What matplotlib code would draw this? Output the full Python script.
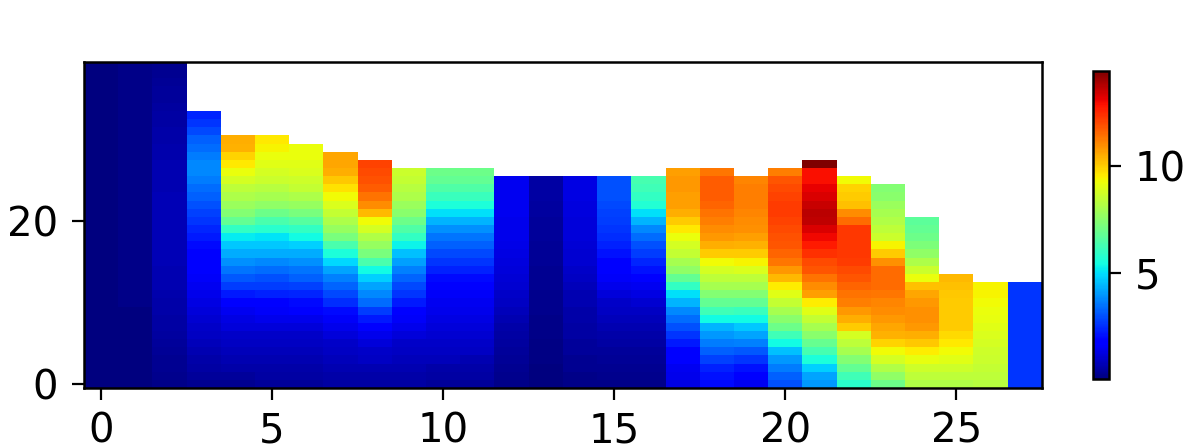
import numpy as np
import matplotlib
matplotlib.use("Agg")
import matplotlib.pyplot as plt

# values per column, from the bottom row upwards
col_00 = [0.05]*8 + [0.1]*32
col_01 = [0.1]*10 + [0.2]*30
col_02 = [0.2, 0.25, 0.3, 0.3, 0.35, 0.4, 0.45, 0.5, 0.55, 0.6, 0.6, 0.65, 0.7, 0.7, 0.7, 0.75, 0.75, 0.75, 0.75, 0.75,
          0.75, 0.75, 0.75, 0.75, 0.7, 0.7, 0.7, 0.7, 0.65, 0.65, 0.6, 0.6, 0.55, 0.5, 0.45, 0.4, 0.4, 0.35, 0.3, 0.25]
col_03 = [0.3, 0.4, 0.5, 0.6, 0.7, 0.8, 0.9, 1.0, 1.1, 1.2, 1.3, 1.4, 1.5, 1.6, 1.7, 1.8, 1.9, 2.0, 2.2, 2.4,
          2.6, 2.8, 3.0, 3.2, 3.4, 3.6, 3.8, 3.8, 3.6, 3.4, 3.2, 2.9, 2.6, 2.4]
col_04 = [0.3, 0.4, 0.6, 0.7, 0.8, 0.9, 1.0, 1.2, 1.3, 1.5, 1.8, 2.2, 2.7, 3.1, 3.5, 3.9, 4.3, 4.7, 5.2, 6.0,
          6.8, 7.4, 7.8, 8.1, 8.4, 8.8, 9.2, 9.6, 9.9, 10.4, 10.5]
col_05 = [0.4, 0.5, 0.6, 0.7, 0.8, 0.9, 1.0, 1.2, 1.4, 1.6, 1.9, 2.3, 2.7, 3.0, 3.4, 3.8, 4.3, 4.7, 5.1, 5.8,
          6.4, 7.0, 7.6, 8.0, 8.3, 8.6, 8.8, 9.0, 9.2, 9.4, 9.6]
col_06 = [0.4, 0.5, 0.6, 0.7, 0.8, 0.9, 1.0, 1.2, 1.4, 1.7, 2.0, 2.4, 2.8, 3.2, 3.5, 3.9, 4.3, 4.8, 5.4, 6.0,
          6.6, 7.2, 7.7, 8.1, 8.5, 8.7, 8.9, 9.0, 9.2, 9.2]
col_07 = [0.5, 0.6, 0.7, 0.8, 0.9, 1.0, 1.2, 1.4, 1.6, 2.0, 2.5, 2.9, 3.3, 3.7, 4.2, 4.9, 5.6, 6.4, 7.2, 7.7,
          8.1, 8.5, 8.9, 9.3, 9.7, 10.1, 10.5, 10.6, 10.6]
col_08 = [0.5, 0.6, 0.7, 0.9, 1.0, 1.2, 1.4, 1.7, 2.2, 2.7, 3.4, 3.8, 4.2, 4.8, 5.4, 6.4, 7.2, 7.7, 8.2, 8.8,
          9.3, 10.3, 11.0, 11.4, 11.7, 11.9, 12.0, 12.1]
col_09 = [0.5, 0.6, 0.7, 0.8, 0.9, 1.0, 1.2, 1.4, 1.6, 1.9, 2.2, 2.6, 2.9, 3.3, 3.7, 4.1, 4.6, 5.3, 6.0, 6.5,
          7.0, 7.5, 7.8, 8.1, 8.3, 8.5, 8.6]
col_10 = [0.4, 0.5, 0.6, 0.8, 0.9, 1.0, 1.1, 1.2, 1.3, 1.4, 1.5, 1.6, 1.8, 2.0, 2.3, 2.6, 2.9, 3.2, 3.5, 3.9,
          4.4, 5.0, 5.6, 6.1, 6.5, 6.8, 7.0]
col_11 = [0.4, 0.5, 0.6, 0.7, 0.9, 1.0, 1.1, 1.2, 1.3, 1.4, 1.5, 1.6, 1.8, 2.0, 2.3, 2.6, 2.9, 3.2, 3.5, 3.9,
          4.4, 5.0, 5.6, 6.1, 6.5, 6.8, 7.0]
col_12 = [0.2, 0.25, 0.3, 0.35, 0.4, 0.45, 0.5, 0.6, 0.7, 0.8, 0.9, 1.0, 1.1, 1.15, 1.2, 1.25, 1.3, 1.35, 1.4, 1.4,
          1.45, 1.5, 1.5, 1.5, 1.5, 1.5]
col_13 = [0.1, 0.1, 0.1, 0.15, 0.15, 0.15, 0.2, 0.2, 0.2, 0.25, 0.25, 0.25, 0.3, 0.3, 0.3, 0.35, 0.35, 0.35, 0.4, 0.4,
          0.4, 0.45, 0.45, 0.5, 0.5, 0.5]
col_14 = [0.2, 0.2, 0.3, 0.3, 0.4, 0.4, 0.5, 0.5, 0.6, 0.6, 0.7, 0.7, 0.8, 0.9, 1.0, 1.1, 1.1, 1.15, 1.2, 1.2,
          1.2, 1.25, 1.25, 1.3, 1.3, 1.3]
col_15 = [0.2, 0.25, 0.3, 0.35, 0.4, 0.5, 0.6, 0.7, 0.8, 0.9, 1.0, 1.2, 1.4, 1.6, 1.8, 1.9, 2.1, 2.3, 2.5, 2.6,
          2.7, 2.8, 2.9, 3.0, 3.0, 3.0]
col_16 = [0.2, 0.25, 0.3, 0.35, 0.4, 0.5, 0.6, 0.7, 0.8, 0.9, 1.1, 1.3, 1.5, 1.8, 2.1, 2.4, 2.7, 3.0, 3.4, 3.8,
          4.4, 5.0, 5.7, 6.0, 6.2, 6.3]
col_17 = [1.3, 1.4, 1.5, 1.7, 1.8, 2.2, 2.6, 3.0, 3.4, 3.8, 4.4, 5.0, 6.0, 6.8, 7.6, 8.0, 8.5, 8.8, 9.2, 9.6,
          10.0, 10.5, 10.7, 10.7, 10.8, 10.8, 10.7]
col_18 = [2.0, 2.1, 2.3, 2.8, 3.2, 3.6, 4.0, 4.4, 5.4, 6.2, 6.8, 7.4, 8.0, 8.4, 8.8, 9.3, 10.0, 10.5, 10.8, 11.0,
          11.2, 11.4, 11.6, 11.7, 11.7, 11.7, 11.3]
col_19 = [1.5, 1.7, 2.1, 2.6, 3.1, 3.7, 4.2, 4.7, 5.4, 6.1, 6.8, 7.4, 8.0, 8.4, 8.9, 9.4, 10.0, 10.4, 10.7, 10.9,
          11.0, 11.1, 11.2, 11.2, 11.2, 11.1]
col_20 = [3.0, 3.2, 3.6, 4.0, 4.6, 5.4, 6.2, 7.0, 7.5, 8.0, 8.5, 9.0, 9.5, 10.3, 10.8, 11.3, 11.6, 11.8, 11.9, 12.0,
          12.1, 12.2, 12.2, 12.1, 12.0, 11.8, 11.2]
col_21 = [4.0, 4.2, 4.8, 5.6, 6.3, 6.9, 7.5, 8.0, 8.5, 9.0, 9.5, 10.7, 11.0, 11.4, 11.8, 12.0, 12.4, 12.7, 13.0, 13.3,
          13.6, 13.7, 13.5, 13.3, 13.1, 12.9, 12.9, 14.4]
col_22 = [5.8, 6.2, 6.8, 7.4, 8.0, 8.4, 8.8, 10.0, 10.5, 10.8, 11.2, 11.4, 11.6, 11.8, 12.0, 12.2, 12.3, 12.3, 12.3, 12.3,
          11.5, 11.0, 10.2, 10.0, 9.9, 9.3]
col_23 = [7.0, 7.6, 8.2, 8.8, 9.3, 9.9, 10.4, 10.6, 10.8, 11.0, 11.1, 11.3, 11.5, 11.5, 11.5, 10.9, 10.0, 9.4, 8.6, 8.4,
          8.2, 8.0, 7.8, 7.5, 7.4]
col_24 = [8.2, 8.4, 8.7, 9.1, 9.5, 10.1, 10.5, 10.8, 10.9, 10.9, 10.8, 10.6, 10.2, 9.2, 8.6, 8.1, 7.6, 7.3, 7.0, 6.8, 6.7]
col_25 = [8.2, 8.4, 8.7, 9.0, 9.3, 9.6, 9.8, 10.0, 10.0, 10.0, 10.0, 10.1, 10.2, 10.3]
col_26 = [8.3, 8.4, 8.5, 8.6, 8.7, 8.8, 8.9, 9.0, 9.1, 9.2, 9.3, 9.4, 9.4]
col_27 = [2.6, 2.6, 2.6, 2.6, 2.6, 2.6, 2.6, 2.6, 2.6, 2.6, 2.6, 2.6, 2.6]

columns = [col_00, col_01, col_02, col_03, col_04, col_05, col_06, col_07, col_08, col_09,
           col_10, col_11, col_12, col_13, col_14, col_15, col_16, col_17, col_18, col_19,
           col_20, col_21, col_22, col_23, col_24, col_25, col_26, col_27]
x_ticks = [0, 5, 10, 15, 20, 25]
y_ticks = [0, 20]
cbar_ticks = [5, 10]
vmin, vmax = 0.05, 14.44

n_rows = max(len(c) for c in columns)
grid = np.full((n_rows, len(columns)), np.nan)
for j, c in enumerate(columns):
    grid[:len(c), j] = c

W, H = 1196, 448
fig = plt.figure(figsize=(W / 100, H / 100), dpi=100)
ax = fig.add_axes([84 / W, 1 - 388 / H, (1042 - 84) / W, (388 - 62) / H])
im = ax.imshow(grid, cmap="jet", origin="lower", aspect="auto",
               interpolation="nearest", vmin=vmin, vmax=vmax)
ax.set_xticks(x_ticks)
ax.set_yticks(y_ticks)
ax.tick_params(axis="x", labelsize=29, length=8.6, width=1.6, pad=8)
ax.tick_params(axis="y", labelsize=29, length=8.6, width=1.6, pad=10)
for s in ax.spines.values():
    s.set_linewidth(1.8)

cax = fig.add_axes([1093 / W, 1 - 379 / H, 16 / W, 308 / H])
cb = fig.colorbar(im, cax=cax, ticks=cbar_ticks)
cb.ax.tick_params(labelsize=29, length=8.6, width=1.6, pad=10)
cb.outline.set_linewidth(1.8)

fig.savefig("out.png", dpi=100)
